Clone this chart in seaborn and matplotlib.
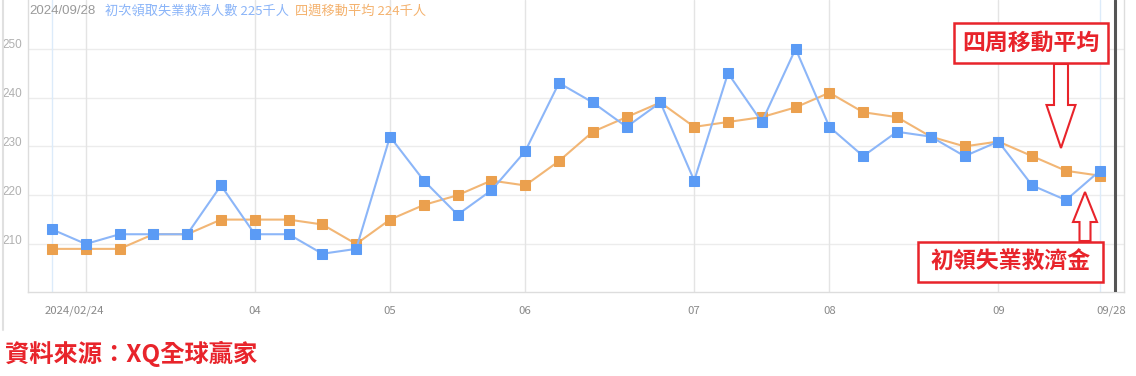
import matplotlib
matplotlib.use("Agg")
import matplotlib.pyplot as plt
import matplotlib.transforms as mtransforms
from matplotlib.patches import FancyArrow, Rectangle
from matplotlib.lines import Line2D
import numpy as np
import pandas as pd
import seaborn as sns

# ---- data ----
dates = ["02/24", "03/02", "03/09", "03/16", "03/23", "03/30", "04/06", "04/13",
         "04/20", "04/27", "05/04", "05/11", "05/18", "05/25", "06/01", "06/08",
         "06/15", "06/22", "06/29", "07/06", "07/13", "07/20", "07/27", "08/03",
         "08/10", "08/17", "08/24", "08/31", "09/07", "09/14", "09/21", "09/28"]
initial_claims = [213, 210, 212, 212, 212, 222, 212, 212, 208, 209, 232, 223, 216, 221,
                  229, 243, 239, 234, 239, 223, 245, 235, 250, 234, 228, 233, 232, 228,
                  231, 222, 219, 225]
moving_avg = [209, 209, 209, 212, 212, 215, 215, 215, 214, 210, 215, 218, 220, 223,
              222, 227, 233, 236, 239, 234, 235, 236, 238, 241, 237, 236, 232, 230,
              231, 228, 225, 224]
month_start_idx = [1, 6, 10, 14, 19, 23, 28]
tick_idx = [0, 1, 6, 10, 14, 19, 23, 28, 31]
tick_labels = ["2024/02/24", "", "04", "05", "06", "07", "08", "09", "09/28"]
y_ticks = [210, 220, 230, 240, 250]

df = pd.DataFrame({"idx": np.arange(len(dates)), "date": dates,
                   "claims": initial_claims, "ma": moving_avg})

sns.set_theme(style="white")
plt.rcParams["font.family"] = ["Noto Sans CJK TC", "DejaVu Sans"]

W, H = 1136, 376
fig = plt.figure(figsize=(W / 100, H / 100), dpi=100)
ax = fig.add_axes([28 / W, (H - 292) / H, (1124 - 28) / W, 292 / H])

BLUE_M, BLUE_L = "#5b9bf5", "#8cb6f8"
ORG_M, ORG_L = "#eba04e", "#f2b675"

# grid lines
for v in y_ticks:
    ax.axhline(v, color="#ececec", lw=1, zorder=0)
for i in month_start_idx:
    ax.axvline(i, color="#e4e4e4", lw=1, zorder=0)
for i in [0, len(dates) - 1]:
    ax.axvline(i, color="#dcebfa", lw=1, zorder=0)

sns.lineplot(data=df, x="idx", y="ma", ax=ax, color=ORG_L, lw=1.5, marker="s",
             markersize=7.5, markerfacecolor=ORG_M, markeredgecolor=ORG_M, zorder=3)
sns.lineplot(data=df, x="idx", y="claims", ax=ax, color=BLUE_L, lw=1.5, marker="s",
             markersize=7.5, markerfacecolor=BLUE_M, markeredgecolor=BLUE_M, zorder=4)

ax.set_xlim(-24 / 33.8, (1124 - 52) / 33.8)
ax.set_ylim(210 - 48 / 4.88, 210 + 244 / 4.88)
ax.set_xlabel("")
ax.set_ylabel("")

ax.set_yticks(y_ticks)
ax.set_yticklabels([str(v) for v in y_ticks])
ax.tick_params(axis="y", length=0, pad=4, labelsize=8.5, labelcolor="#b0b0b0")
for lab in ax.get_yticklabels():
    lab.set_transform(lab.get_transform() + mtransforms.ScaledTranslation(0, 5 / 100, fig.dpi_scale_trans))
    lab.set_family(["Liberation Sans", "DejaVu Sans"])

ax.set_xticks(tick_idx)
ax.set_xticklabels(tick_labels)
ax.tick_params(axis="x", length=3, width=0.8, color="#d0d0d0", pad=7, labelsize=8.2,
               labelcolor="#8a8a8a")
xl = ax.get_xticklabels()
xl[0].set_transform(xl[0].get_transform() + mtransforms.ScaledTranslation(22 / 100, 0, fig.dpi_scale_trans))
xl[-1].set_transform(xl[-1].get_transform() + mtransforms.ScaledTranslation(11 / 100, 0, fig.dpi_scale_trans))

for s in ["top"]:
    ax.spines[s].set_visible(False)
for s in ["left", "bottom", "right"]:
    ax.spines[s].set_color("#dddddd")
    ax.spines[s].set_linewidth(1)

# dark vertical cursor line near right edge
ax.axvline((1115 - 52) / 33.8, color="#555555", lw=2.2, zorder=5)

# outer frame line on the left
fig.add_artist(Line2D([3 / W, 3 / W], [(H - 330) / H, 1], color="#e0e0e0", lw=1.5,
                      transform=fig.transFigure))

# header text
ident = mtransforms.IdentityTransform()
hdr_y = H - 11
fig.text(29, hdr_y, "2024/09/28", transform=ident, fontsize=9.5, color="#9a9a9a",
         va="center", ha="left", family=["Liberation Sans", "DejaVu Sans"])
fig.text(105, hdr_y, f"初次領取失業救濟人數 {initial_claims[-1]}千人", transform=ident,
         fontsize=9.5, color="#8ab4f8", va="center", ha="left")
fig.text(295, hdr_y, f"四週移動平均 {moving_avg[-1]}千人", transform=ident,
         fontsize=9.5, color="#f4b26e", va="center", ha="left")

# annotation boxes
RED = "#e8242b"
def box(x0, y0_img, x1, y1_img, text):
    fig.patches.append(Rectangle((x0, H - y1_img), x1 - x0, y1_img - y0_img,
                                 transform=ident, fill=True, facecolor="white",
                                 edgecolor=RED, lw=1.8, zorder=10))
    fig.text((x0 + x1) / 2, H - (y0_img + y1_img) / 2, text, transform=ident,
             fontsize=16.5, color=RED, ha="center", va="center", weight="bold", zorder=11)

box(954, 23, 1108, 63, "四周移動平均")
box(918, 242, 1103, 282, "初領失業救濟金")

fig.patches.append(FancyArrow(1061, H - 64, 0, -(148 - 64), width=14, head_width=29,
                              head_length=43, length_includes_head=True, transform=ident,
                              facecolor="white", edgecolor=RED, lw=1.5, zorder=10))
fig.patches.append(FancyArrow(1085, H - 241, 0, 241 - 192, width=11, head_width=24,
                              head_length=30, length_includes_head=True, transform=ident,
                              facecolor="white", edgecolor=RED, lw=1.5, zorder=10))

# source
fig.text(5, H - 354, "資料來源：XQ全球贏家", transform=ident, fontsize=17.5, color=RED,
         ha="left", va="center", weight="bold")

fig.savefig("out.png", dpi=100)
